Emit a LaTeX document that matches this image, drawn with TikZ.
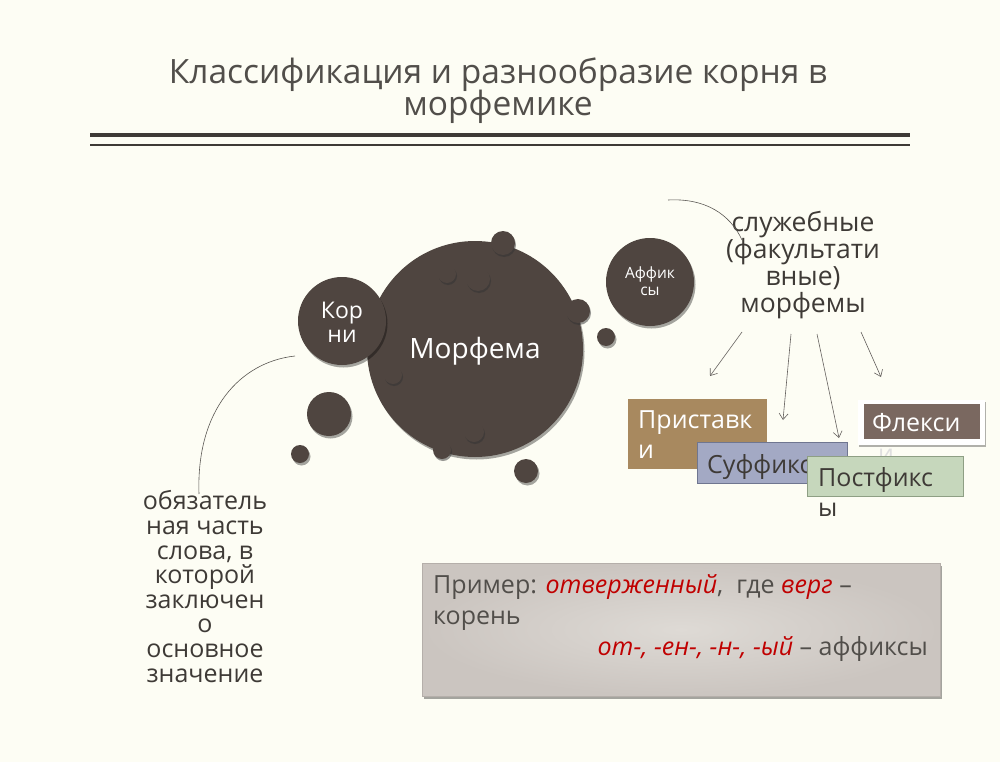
\documentclass[tikz,border=0pt]{standalone}
\usepackage{fontspec}
\setmainfont{Open Sans}
\usetikzlibrary{arrows.meta,shadows}
\definecolor{bg}{HTML}{FDFDF4}
\definecolor{circ}{HTML}{4F4540}
\definecolor{txt}{HTML}{3E3A36}
\definecolor{redt}{HTML}{C00000}
\definecolor{tanb}{HTML}{A8895F}
\definecolor{sufb}{HTML}{A3A9C4}
\definecolor{sufd}{HTML}{6F7690}
\definecolor{posg}{HTML}{C6D7BC}
\definecolor{posd}{HTML}{8E9F84}
\definecolor{flex}{HTML}{7A6860}
\definecolor{exin}{HTML}{DEDAD5}
\definecolor{exout}{HTML}{CBC5C0}
\definecolor{exd}{HTML}{B5AFAA}
\begin{document}
\begin{tikzpicture}[x=1pt,y=-1pt,
  ball/.style={circle,fill=circ,inner sep=0pt,minimum size=#1,
    drop shadow={shadow xshift=1.5pt,shadow yshift=-2.5pt,opacity=0.35,fill=black}},
  bump/.style={circle,fill=circ,inner sep=0pt,minimum size=#1,
    drop shadow={shadow xshift=1pt,shadow yshift=-2pt,opacity=0.5,fill=black!80}},
  wtext/.style={text=white,align=center,inner sep=0pt},
  gtext/.style={text=txt,align=center,inner sep=0pt},
  link/.style={draw=txt!85,line width=0.6pt},
  arr/.style={draw=txt!80,line width=0.6pt,-{Straight Barb[length=6pt,width=9pt]}},
  boxtext/.style={anchor=base west,inner sep=0pt,font=\fontsize{25}{30}\selectfont},
  extext/.style={inner sep=0pt,text=txt!90,font=\fontsize{25}{30}\selectfont},
  ttext/.style={text=txt!90,inner sep=0pt,anchor=base,font=\fontsize{33.5}{34}\selectfont},
]
\fill[bg] (0,0) rectangle (1000,762);
\useasboundingbox (0,0) rectangle (1000,762);

% title
\node[ttext] (t1) at (498,84) {Классификация и разнообразие корня в};
\node[ttext] (t2) at (498,116) {морфемике};
\coordinate (la) at (90,135); \coordinate (lb) at (910,135);
\coordinate (lc) at (90,145); \coordinate (ld) at (910,145);
\draw[txt,line width=4pt] (la) -- (lb);
\draw[txt,line width=1.3pt] (lc) -- (ld);

% circles
\node[ball=18pt] (s1) at (300,454) {};
\node[ball=44pt] (s2) at (329,414) {};
\node[ball=24pt] (s3) at (526,471) {};
\node[ball=18pt] (s4) at (606,337) {};
\node[ball=216pt] (morf) at (475,349) {};
\node[bump=24pt] (b1) at (503,243) {};
\node[bump=18pt] (b2) at (447,274) {};
\node[bump=24pt] (b3) at (478,279) {};
\node[bump=24pt] (b4) at (578,311) {};
\node[bump=18pt] (b5) at (393,375) {};
\node[bump=20pt] (b6) at (474,432) {};
\node[bump=18pt] (b7) at (442,450) {};
\node[ball=88pt] (korn) at (342,321) {};
\node[ball=88pt] (aff) at (650,282) {};
\node[wtext,anchor=base,font=\fontsize{28}{28}\selectfont] (morft) at (475,358) {Морфема};
\node[wtext,anchor=base,font=\fontsize{23}{24}\selectfont] (kornt) at (342,342) {Кор\\ни};
\node[wtext,anchor=base,font=\fontsize{15.5}{17}\selectfont] (afft) at (650,295) {Аффик\\сы};

% left text
\node[gtext,anchor=base,font=\fontsize{25}{24.6}\selectfont] (obz) at (205,682)
  {обязатель\\ная часть\\слова, в\\которой\\заключен\\о\\основное\\значение};
\coordinate (c1) at (295,356);
\coordinate (c2) at (199,494);
\draw[link] (c1) .. controls (240,362) and (196,410) .. (c2);

% right text
\node[gtext,anchor=base,font=\fontsize{26.5}{26.7}\selectfont] (sluz) at (803,312)
  {служебные\\(факультати\\вные)\\морфемы};
\coordinate (c3) at (668,200);
\coordinate (c4) at (742,240);
\draw[link] (c3) .. controls (705,198) and (730,214) .. (c4);

\coordinate (a1s) at (742,332); \coordinate (a1e) at (710,376);
\coordinate (a2s) at (791,334); \coordinate (a2e) at (783,420);
\coordinate (a3s) at (817,334); \coordinate (a3e) at (839,438);
\coordinate (a4s) at (861,332); \coordinate (a4e) at (881,377);
\draw[arr] (a1s) -- (a1e);
\draw[arr] (a2s) -- (a2e);
\draw[arr] (a3s) -- (a3e);
\draw[arr] (a4s) -- (a4e);

% boxes
\fill[tanb] (628,399) rectangle (767,469);
\node[boxtext,text=white,align=left] (prist) at (638,458) {Приставк\\и};
\filldraw[fill=sufb,draw=sufd,line width=0.8pt] (697,442) rectangle (847,483);
\node[boxtext,text=txt] (suff) at (707,473) {Суффиксы};
\node[boxtext,text=black!12] (flexi) at (878,462) {и};
\filldraw[fill=posg,draw=posd,line width=0.8pt] (807,456) rectangle (963,496);
\node[boxtext,text=txt] (post) at (818,486) {Постфикс};
\node[boxtext,text=txt] (posty) at (818,516) {ы};
\fill[white,drop shadow={shadow xshift=1pt,shadow yshift=-1.5pt,opacity=0.3,fill=black}] (858,400) rectangle (985,445);
\fill[flex] (864,404) rectangle (980,439);
\node[boxtext,text=white] (flex) at (872,431) {Флекси};

% example box
\shade[inner color=exin,outer color=exout,draw=exd,line width=0.6pt,
  drop shadow={shadow xshift=2pt,shadow yshift=-3pt,opacity=0.35,fill=black}]
  (422,563) rectangle (940,696);
\node[extext,anchor=base west] (ex1) at (433,593)
  {Пример: \textcolor{redt}{\itshape отверженный},\ \ где \textcolor{redt}{\itshape верг} –};
\node[extext,anchor=base west] (ex2) at (433,624) {корень};
\node[extext,anchor=base east] (ex3) at (928,655)
  {\textcolor{redt}{\itshape от-, -ен-, -н-, -ый} – аффиксы};
\end{tikzpicture}
\end{document}
